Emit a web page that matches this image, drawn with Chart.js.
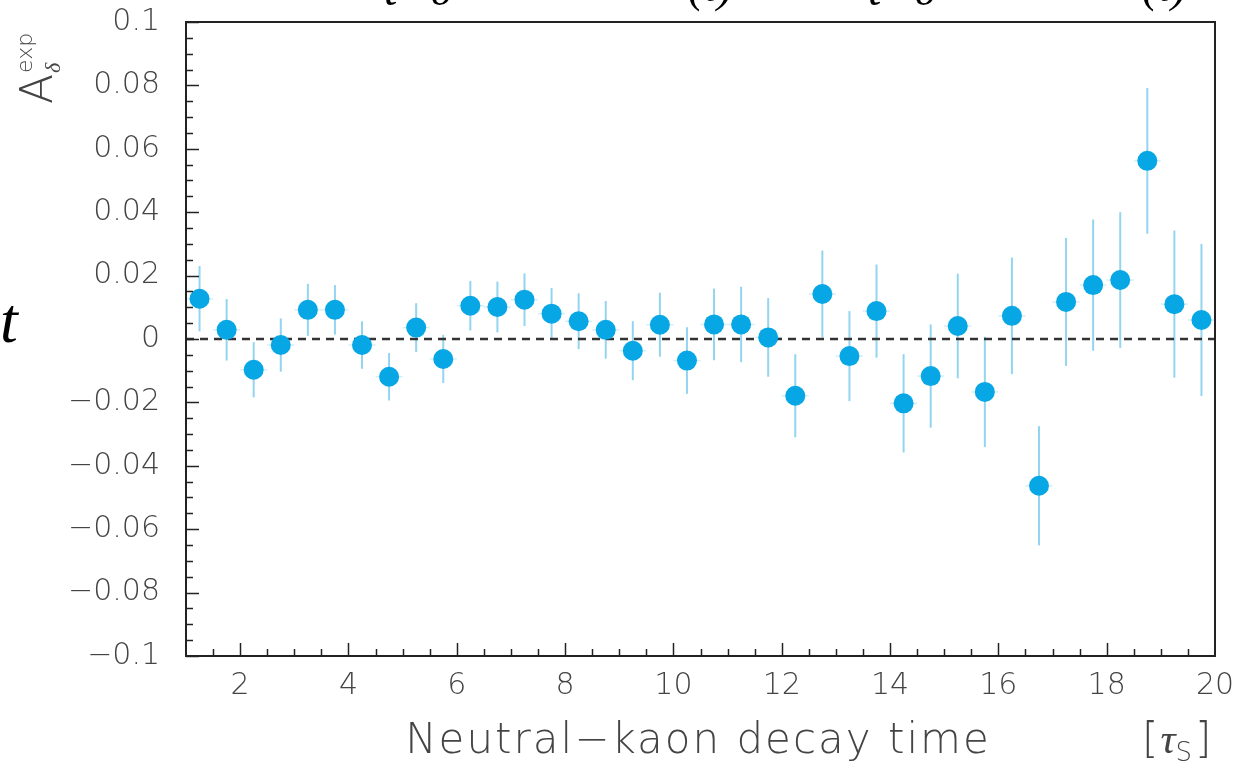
<!DOCTYPE html>
<html lang="en">
<head>
<meta charset="UTF-8" />
<title>Neutral-kaon decay time asymmetry</title>
<script src="https://cdn.jsdelivr.net/npm/chart.js@4.4.1/dist/chart.umd.min.js"></script>
<style>
  html, body { margin: 0; padding: 0; background: #fff; }
</style>
</head>
<body>
<canvas id="asym-chart" width="1252" height="764"></canvas>
<script>
  // bin centres in units of tau_S, measured asymmetry and its error
  const decayTime = [
    1.25, 1.75, 2.25, 2.75, 3.25, 3.75, 4.25, 4.75, 5.25, 5.75,
    6.25, 6.75, 7.25, 7.75, 8.25, 8.75, 9.25, 9.75, 10.25, 10.75,
    11.25, 11.75, 12.25, 12.75, 13.25, 13.75, 14.25, 14.75, 15.25, 15.75,
    16.25, 16.75, 17.25, 17.75, 18.25, 18.75, 19.25, 19.75
  ];
  const asymmetry = [
    0.0127, 0.0029, -0.0097, -0.0019, 0.0092, 0.0092, -0.0019, -0.0119, 0.0036, -0.0063,
    0.0105, 0.0101, 0.0124, 0.0080, 0.0056, 0.0029, -0.0037, 0.0045, -0.0068, 0.0046,
    0.0046, 0.0005, -0.0179, 0.0142, -0.0054, 0.0088, -0.0203, -0.0117, 0.0041, -0.0167,
    0.0073, -0.0463, 0.0117, 0.0170, 0.0186, 0.0562, 0.0110, 0.0060
  ];
  const asymError = [
    0.0103, 0.0097, 0.0087, 0.0084, 0.0082, 0.0078, 0.0075, 0.0075, 0.0077, 0.0076,
    0.0078, 0.0080, 0.0083, 0.0081, 0.0088, 0.0091, 0.0093, 0.0101, 0.0105, 0.0113,
    0.0119, 0.0124, 0.0131, 0.0137, 0.0142, 0.0147, 0.0155, 0.0163, 0.0165, 0.0174,
    0.0184, 0.0188, 0.0202, 0.0207, 0.0214, 0.0230, 0.0232, 0.0240
  ];
  const binHalfWidth = 0.25;

  const xTicks = [2, 4, 6, 8, 10, 12, 14, 16, 18, 20];
  const yTicks = [-0.1, -0.08, -0.06, -0.04, -0.02, 0, 0.02, 0.04, 0.06, 0.08, 0.1];

  const fontFamily = '"DejaVu Sans", sans-serif';
  const textColor = '#444';
  const dotColor = '#07a6e4';
  const errColor = '#93d4f0';

  const fmtTick = (v) => {
    if (Math.abs(v) < 1e-9) return '0';
    const s = String(Math.round(Math.abs(v) * 100) / 100);
    return v < 0 ? '\u2212' + s : s;
  };

  // vertical error bars plus the faint bin-width marks, behind the dots
  const errorBars = {
    id: 'errorBars',
    beforeDatasetsDraw(chart) {
      const { ctx, scales: { x, y } } = chart;
      ctx.save();
      decayTime.forEach((t, i) => {
        const px = x.getPixelForValue(t);
        const py = y.getPixelForValue(asymmetry[i]);
        ctx.strokeStyle = errColor;
        ctx.lineWidth = 2;
        ctx.beginPath();
        ctx.moveTo(px, y.getPixelForValue(asymmetry[i] + asymError[i]));
        ctx.lineTo(px, y.getPixelForValue(asymmetry[i] - asymError[i]));
        ctx.stroke();
        ctx.strokeStyle = '#d3eef9';
        ctx.lineWidth = 1.5;
        ctx.beginPath();
        ctx.moveTo(x.getPixelForValue(t - binHalfWidth), py);
        ctx.lineTo(x.getPixelForValue(t + binHalfWidth), py);
        ctx.stroke();
      });
      ctx.restore();
    }
  };

  // frame, inward ticks and the axis titles
  const frameAndTitles = {
    id: 'frameAndTitles',
    afterDraw(chart) {
      const { ctx, chartArea: a, scales: { x, y } } = chart;
      ctx.save();
      ctx.strokeStyle = '#222';
      ctx.lineWidth = 1.5;
      for (let v = -0.1; v <= 0.1001; v += 0.005) {
        const major = Math.abs(Math.round(v * 1000) % 20) === 0;
        const py = Math.round(y.getPixelForValue(v)) + 0.5;
        ctx.beginPath();
        ctx.moveTo(a.left, py);
        ctx.lineTo(a.left + (major ? 13 : 7), py);
        ctx.stroke();
      }
      for (let v = 1.5; v < 20; v += 0.5) {
        const major = Math.abs(v % 2) < 1e-9;
        const px = Math.round(x.getPixelForValue(v)) + 0.5;
        ctx.beginPath();
        ctx.moveTo(px, a.bottom);
        ctx.lineTo(px, a.bottom - (major ? 13 : 7));
        ctx.stroke();
      }
      ctx.lineWidth = 2;
      ctx.strokeRect(a.left, a.top, a.right - a.left, a.bottom - a.top);

      // x title
      ctx.fillStyle = textColor;
      ctx.textBaseline = 'alphabetic';
      ctx.font = '300 42px ' + fontFamily;
      ctx.letterSpacing = '2px';
      ctx.textAlign = 'center';
      ctx.fillText('Neutral\u2212kaon decay time', 698, 753);
      ctx.letterSpacing = '0px';

      ctx.textAlign = 'left';
      let cx = 1142;
      ctx.font = '300 42px ' + fontFamily;
      ctx.fillText('[', cx, 753);
      cx += ctx.measureText('[').width + 2;
      ctx.font = 'italic 42px "Liberation Serif", serif';
      ctx.fillText('\u03c4', cx, 753);
      cx += ctx.measureText('\u03c4').width;
      ctx.font = '300 26px ' + fontFamily;
      ctx.fillText('S', cx, 761);
      cx += ctx.measureText('S').width + 3;
      ctx.font = '300 42px ' + fontFamily;
      ctx.fillText(']', cx, 753);

      // y title, rotated
      ctx.save();
      ctx.translate(52, 104);
      ctx.rotate(-Math.PI / 2);
      ctx.font = '300 44px ' + fontFamily;
      ctx.fillText('A', 0, 0);
      const aw = ctx.measureText('A').width;
      ctx.font = 'italic 22px "Liberation Serif", serif';
      ctx.fillText('\u03b4', aw + 1, 8);
      ctx.font = '300 22px ' + fontFamily;
      ctx.fillText('exp', aw + 1, -20);
      ctx.restore();

      // fragments of the surrounding equation text
      ctx.fillStyle = '#000';
      ctx.font = 'italic 64px "Liberation Serif", serif';
      ctx.fillText('t', 0, 342);
      ctx.font = 'italic 48px "Liberation Serif", serif';
      ctx.fillText('t=0', 384, 5);
      ctx.fillText('(t)', 688, 1);
      ctx.fillText('t=0', 868, 5);
      ctx.fillText('(t)', 1142, 1);
      ctx.restore();
    }
  };

  new Chart(document.getElementById('asym-chart').getContext('2d'), {
    type: 'scatter',
    data: {
      datasets: [
        {
          label: 'zero',
          type: 'line',
          data: [{ x: 1, y: 0 }, { x: 20, y: 0 }],
          borderColor: '#333',
          borderWidth: 2.5,
          borderDash: [8, 6],
          pointRadius: 0,
          order: 2
        },
        {
          label: 'asymmetry',
          data: decayTime.map((t, i) => ({ x: t, y: asymmetry[i] })),
          backgroundColor: dotColor,
          borderWidth: 0,
          pointRadius: 10,
          order: 1
        }
      ]
    },
    options: {
      responsive: false,
      animation: false,
      layout: { padding: { left: 0, right: 37, top: 22, bottom: 0 } },
      plugins: {
        legend: { display: false },
        tooltip: { enabled: false }
      },
      scales: {
        x: {
          type: 'linear',
          min: 1,
          max: 20,
          afterBuildTicks: (s) => { s.ticks = xTicks.map((v) => ({ value: v })); },
          afterFit: (s) => {
            s.height = 108;
            s.paddingLeft = 0;
            s.paddingRight = 0;
          },
          grid: { display: false },
          border: { display: false },
          ticks: {
            autoSkip: false,
            maxRotation: 0,
            padding: 4,
            color: textColor,
            font: { family: fontFamily, size: 30, weight: 300 }
          }
        },
        y: {
          min: -0.1,
          max: 0.1,
          afterBuildTicks: (s) => { s.ticks = yTicks.map((v) => ({ value: v })); },
          afterFit: (s) => {
            s.width = 186;
            s.paddingTop = 0;
            s.paddingBottom = 0;
          },
          grid: { display: false },
          border: { display: false },
          ticks: {
            padding: 18,
            color: textColor,
            font: { family: fontFamily, size: 30, weight: 300 },
            callback: fmtTick
          }
        }
      }
    },
    plugins: [errorBars, frameAndTitles]
  });
</script>
</body>
</html>
